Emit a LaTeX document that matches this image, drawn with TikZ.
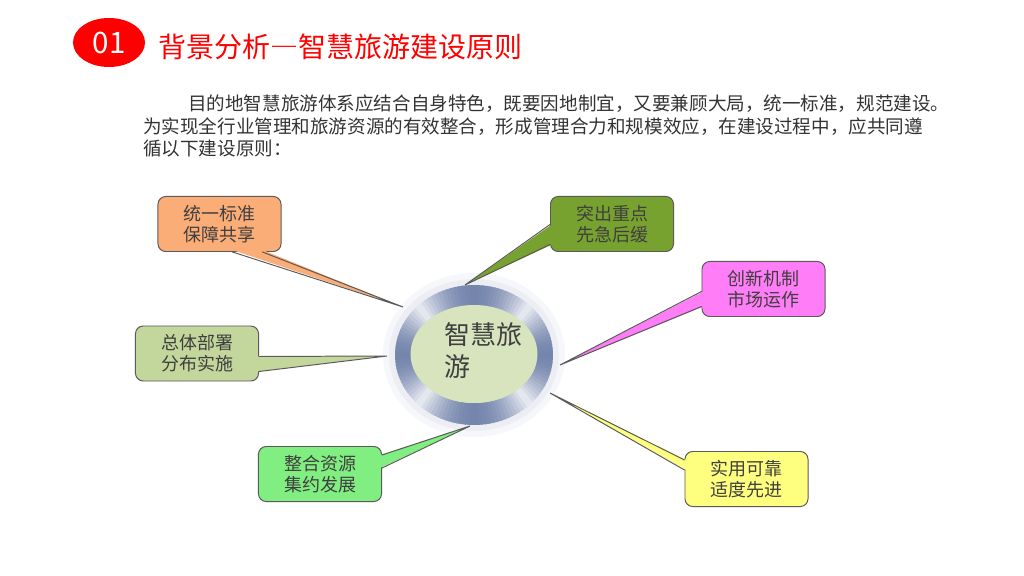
\documentclass[tikz,border=0pt]{standalone}
\usepackage{fontspec}
\setmainfont{Noto Sans CJK SC}
\usetikzlibrary{calc,shapes.geometric}
\definecolor{ttlred}{HTML}{FF0000}
\definecolor{bodytxt}{HTML}{333333}
\definecolor{boxtxt}{HTML}{3F3F3F}
\definecolor{boxline}{HTML}{5A5A5A}
\definecolor{orgbox}{HTML}{FBAD78}
\definecolor{olvbox}{HTML}{78A22F}
\definecolor{pnkbox}{HTML}{FF7DF7}
\definecolor{sgebox}{HTML}{C3D69B}
\definecolor{grnbox}{HTML}{80EE80}
\definecolor{ylwbox}{HTML}{FFFF7F}
\definecolor{hubfill}{HTML}{D7E4BD}
\definecolor{ringdk}{HTML}{6E7FA8}
\definecolor{glowa}{HTML}{F6F7FA}
\definecolor{glowb}{HTML}{ECEEF4}

\begin{document}
\begin{tikzpicture}[x=0.025cm,y=-0.025cm,
  box/.style={draw=boxline, line width=0.7pt, rounded corners=5.5pt, minimum width=3.075cm, minimum height=1.375cm, inner sep=0pt, align=center, text=boxtxt, font=\fontsize{12.8}{15}\selectfont},
  ptr/.style={draw=boxline, line width=0.7pt, line cap=round}]
\useasboundingbox (0,0) rectangle (1024,576);
% heading
\node[ellipse, fill=ttlred, minimum width=1.8cm, minimum height=1.225cm, inner sep=0pt, text=white, font=\fontsize{21}{21}\selectfont] (num) at (109,42.5) {01};
\node[anchor=west, inner sep=0pt, text=ttlred, font=\fontsize{19.9}{20}\selectfont] (ttl) at (158,47) {背景分析{\addfontfeature{RawFeature=+fwid}—}智慧旅游建设原则};
% intro text
\begin{scope}[every node/.style={anchor=west, inner sep=0pt, text=bodytxt, font=\fontsize{13.2}{15}\selectfont}]
\node (para1) at (188,104) {目的地智慧旅游体系应结合自身特色，既要因地制宜，又要兼顾大局，统一标准，规范建设。};
\node (para2) at (143,127) {为实现全行业管理和旅游资源的有效整合，形成管理合力和规模效应，在建设过程中，应共同遵};
\node (para3) at (143,149) {循以下建设原则：};
\end{scope}
% hub
\fill[glowa] (474,355) ellipse [x radius=91, y radius=82];
\fill[glowb] (474,355) ellipse [x radius=85, y radius=76];
\begin{scope}[shift={(474,355)}]
\foreach \a in {0,3,...,357}{
  \pgfmathsetmacro\t{15+80*abs(cos(2*\a+3))}
  \fill[ringdk!\t!white] ({79*cos(\a)},{70*sin(\a)}) arc[start angle=\a, end angle=\a+4, x radius=79, y radius=70]
    -- ({62*cos(\a+4)},{48*sin(\a+4)}) arc[start angle=\a+4, end angle=\a, x radius=62, y radius=48] -- cycle;
}
\end{scope}
\fill[hubfill] (474,354) ellipse [x radius=63.5, y radius=49];
\node[anchor=west, align=left, inner sep=0pt, text=boxtxt, font=\fontsize{18.5}{22.8}\selectfont] (hub) at (444,351) {智慧旅\\游};
% callouts
\node[box, fill=orgbox] (nA) at (219.5,224) {统一标准\\保障共享};
\node[box, fill=olvbox] (nB) at (612,224) {突出重点\\先急后缓};
\node[box, fill=pnkbox] (nC) at (763.5,289) {创新机制\\市场运作};
\node[box, fill=sgebox] (nD) at (197,353.5) {总体部署\\分布实施};
\node[box, fill=grnbox] (nE) at (320,474) {整合资源\\集约发展};
\node[box, fill=ylwbox] (nF) at (746.5,479) {实用可靠\\适度先进};
\coordinate (tA) at (403,307);
\coordinate (tB) at (465,285);
\coordinate (tC) at (560,365);
\coordinate (tD) at (387,356);
\coordinate (tE) at (470,426);
\coordinate (tF) at (550,393);
\fill[orgbox] ($(nA.south west)+(75,-2)$) -- (tA) -- ($(nA.south west)+(105,-2)$) -- cycle;
\draw[ptr] ($(nA.south west)+(75,0)$) -- (tA) -- ($(nA.south west)+(105,0)$);
\fill[olvbox] ($(nB.north west)+(2,28.5)$) -- (tB) -- ($(nB.north west)+(2,48.5)$) -- cycle;
\draw[ptr] ($(nB.north west)+(0,28.5)$) -- (tB) -- ($(nB.north west)+(0,48.5)$);
\fill[pnkbox] ($(nC.north west)+(2,30.5)$) -- (tC) -- ($(nC.north west)+(2,45.5)$) -- cycle;
\draw[ptr] ($(nC.north west)+(0,30.5)$) -- (tC) -- ($(nC.north west)+(0,45.5)$);
\fill[sgebox] ($(nD.north east)+(-2,31)$) -- (tD) -- ($(nD.north east)+(-2,46)$) -- cycle;
\draw[ptr] ($(nD.north east)+(0,31)$) -- (tD) -- ($(nD.north east)+(0,46)$);
\fill[grnbox] ($(nE.north east)+(-2,9)$) -- (tE) -- ($(nE.north east)+(-2,22)$) -- cycle;
\draw[ptr] ($(nE.north east)+(0,9)$) -- (tE) -- ($(nE.north east)+(0,22)$);
\fill[ylwbox] ($(nF.north west)+(2,9)$) -- (tF) -- ($(nF.north west)+(2,19)$) -- cycle;
\draw[ptr] ($(nF.north west)+(0,9)$) -- (tF) -- ($(nF.north west)+(0,19)$);
\end{tikzpicture}
\end{document}
